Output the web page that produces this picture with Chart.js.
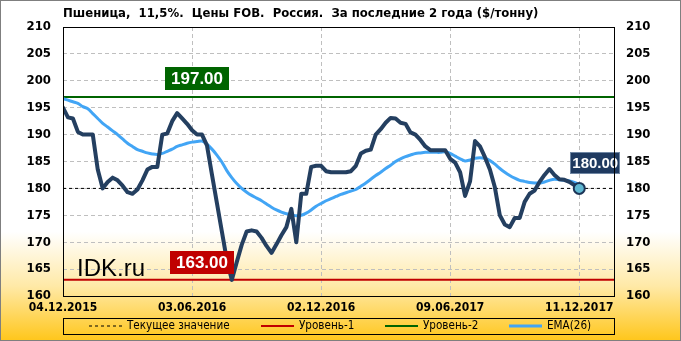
<!DOCTYPE html>
<html><head><meta charset="utf-8">
<script src="https://cdn.jsdelivr.net/npm/chart.js@4/dist/chart.umd.min.js"></script>
<style>html,body{margin:0;padding:0;background:#fff;}canvas{display:block;}</style>
</head><body>
<canvas id="c" width="681" height="341"></canvas>
<script>
// ---- data ----
const chartTitle = 'Пшеница,  11,5%.  Цены FOB.  Россия.  За последние 2 года ($/тонну)';
const dateLabels = ['04.12.2015', '03.06.2016', '02.12.2016', '09.06.2017', '11.12.2017'];
const dateIndex = [0, 26, 52, 78, 104];
const yTicks = [160, 165, 170, 175, 180, 185, 190, 195, 200, 205, 210];
const price = [
  195, 193.2, 193, 190.5, 190, 190, 190, 183.5, 180, 181.2,
  182, 181.5, 180.5, 179.3, 179, 179.8, 181.5, 183.5, 184, 184,
  190, 190.2, 192.5, 194, 193, 192, 190.8, 190, 190, 188,
  182.6, 177.3, 172, 166.7, 163, 166.3, 169.5, 172, 172.2, 172,
  170.8, 169.3, 168, 169.6, 171.3, 172.8, 176.2, 170, 179, 179,
  184, 184.2, 184.2, 183.2, 183, 183, 183, 183, 183.2, 184.2,
  186.5, 187, 187.2, 190, 191, 192.2, 193.1, 193, 192.2, 192,
  190.4, 190, 189, 187.8, 187.1, 187.1, 187.1, 187.1, 185.5, 184.8,
  183, 178.6, 181.3, 188.8, 187.8, 185.8, 183.5, 180.2, 175, 173.3,
  172.8, 174.5, 174.5, 177.5, 179, 179.6, 181.2, 182.5, 183.6, 182.5,
  181.7, 181.6, 181.2, 180.6, 180
];
const ema26 = [
  196.7, 196.4, 196.1, 195.8, 195.2, 194.8, 193.9, 193.0, 192.1, 191.4,
  190.7, 190.0, 189.2, 188.4, 187.8, 187.2, 186.9, 186.6, 186.4, 186.3,
  186.5, 186.9, 187.3, 187.8, 188.1, 188.4, 188.6, 188.7, 188.8, 188.2,
  187.3, 186.2, 184.9, 183.3, 182.0, 180.9, 180.0, 179.3, 178.7, 178.2,
  177.7, 177.1, 176.5, 176.0, 175.6, 175.3, 175.1, 174.9, 175.0, 175.4,
  176.0, 176.7, 177.2, 177.7, 178.1, 178.5, 178.9, 179.2, 179.5, 179.8,
  180.4, 181.0, 181.7, 182.4, 183.0, 183.7, 184.3, 185.0, 185.5, 185.9,
  186.2, 186.5, 186.6, 186.7, 186.7, 186.7, 186.7, 186.8, 186.5, 186.0,
  185.5, 185.1, 185.3, 185.6, 185.7, 185.6, 185.2, 184.5, 183.7, 183.0,
  182.4, 181.9, 181.5, 181.3, 181.1, 181.0, 181.0, 181.2, 181.5, 181.7,
  181.6, 181.5, 181.4, 181.1, 180.7
];
const currentValue = 180;
const level1 = 163;
const level2 = 197;
const seriesNames = ['Текущее значение', 'Уровень-1', 'Уровень-2', 'EMA(26)'];
const watermark = 'IDK.ru';

// ---- chart ----
const X_MAX = 111;
const pts = arr => arr.map((v, i) => ({x: i, y: v}));
const flat = v => [{x: 0, y: v}, {x: X_MAX, y: v}];
const lastIdx = price.length - 1;
const FONT = '"DejaVu Sans Condensed", "DejaVu Sans", sans-serif';

const bgPlugin = {
  id: 'bg',
  beforeDraw(chart) {
    const {ctx, width, height} = chart;
    const g = ctx.createLinearGradient(0, 0, 0, height);
    g.addColorStop(0, '#ffffff');
    g.addColorStop(0.68, '#ffffff');
    g.addColorStop(0.84, '#ffe9a6');
    g.addColorStop(1, '#ffc61a');
    ctx.save();
    ctx.fillStyle = g;
    ctx.fillRect(0, 0, width, height);
    ctx.restore();
  },
  afterDraw(chart) {
    const {ctx, chartArea: a, width, height} = chart;
    ctx.save();
    ctx.strokeStyle = '#000';
    ctx.lineWidth = 1;
    ctx.strokeRect(Math.round(a.left) + 0.5, Math.round(a.top) + 0.5, Math.round(a.right - a.left), Math.round(a.bottom - a.top));
    // legend
    const ly = 326;
    ctx.strokeRect(Math.round(a.left) + 0.5, 318.5, Math.round(a.right - a.left), 16);
    ctx.font = '11.6px ' + FONT;
    ctx.textBaseline = 'middle';
    ctx.textAlign = 'left';
    const ds = chart.data.datasets;
    const items = [ds[1], ds[2], ds[3], ds[4]];
    const xs = [89, 261, 385, 509];
    items.forEach((d, k) => {
      ctx.save();
      ctx.strokeStyle = d.borderColor;
      ctx.lineWidth = d.borderWidth;
      ctx.setLineDash(d.borderDash || []);
      ctx.beginPath();
      ctx.moveTo(xs[k], ly);
      ctx.lineTo(xs[k] + 33, ly);
      ctx.stroke();
      ctx.restore();
      ctx.fillStyle = '#000';
      ctx.fillText(d.label, xs[k] + 38, ly);
    });
    ctx.strokeStyle = '#7f7f7f';
    ctx.strokeRect(0.5, 0.5, width - 1, height - 1);
    ctx.restore();
  }
};

function tag(ctx, text, cx, cy, w, h, fill, size, stroke) {
  ctx.save();
  ctx.fillStyle = fill;
  ctx.fillRect(Math.round(cx - w / 2), Math.round(cy - h / 2), w, h);
  if (stroke) {
    ctx.strokeStyle = stroke;
    ctx.lineWidth = 1;
    ctx.strokeRect(Math.round(cx - w / 2) + 0.5, Math.round(cy - h / 2) + 0.5, w - 1, h - 1);
  }
  ctx.fillStyle = '#fff';
  ctx.font = 'bold ' + size + 'px "Liberation Sans", Arial, sans-serif';
  ctx.textAlign = 'center';
  ctx.textBaseline = 'middle';
  ctx.fillText(text, cx, cy + 1);
  ctx.restore();
}

const labelPlugin = {
  id: 'labels',
  afterDatasetsDraw(chart) {
    const {ctx} = chart;
    const xs = chart.scales.x, ys = chart.scales.y;
    tag(ctx, level2.toFixed(2), xs.getPixelForValue(27), ys.getPixelForValue(level2) - 18.5, 64, 23, '#006400', 17);
    tag(ctx, level1.toFixed(2), xs.getPixelForValue(28), ys.getPixelForValue(level1) - 17.5, 64, 23, '#c00000', 17);
    const px = xs.getPixelForValue(lastIdx), py = ys.getPixelForValue(price[lastIdx]);
    tag(ctx, price[lastIdx].toFixed(2), px + 16, py - 25.5, 50, 22, '#1f3a60', 15, '#6f86a3');
    ctx.save();
    ctx.fillStyle = '#000';
    ctx.font = '24px "Liberation Sans", Arial, sans-serif';
    ctx.textBaseline = 'alphabetic';
    ctx.textAlign = 'left';
    ctx.fillText(watermark, chart.chartArea.left + 14, 276);
    ctx.restore();
  }
};

new Chart(document.getElementById('c'), {
  type: 'line',
  data: {
    datasets: [
      {label: 'price', data: pts(price), borderColor: '#243f60', borderWidth: 4, tension: 0,
       borderJoinStyle: 'round', borderCapStyle: 'round',
       pointRadius: ctx => ctx.dataIndex === lastIdx ? 5.5 : 0,
       pointBackgroundColor: '#5fb8d2', pointBorderColor: '#1c3557', pointBorderWidth: 2, order: 0},
      {label: seriesNames[0], data: flat(currentValue), borderColor: '#000', borderWidth: 1, borderDash: [3, 3], pointRadius: 0, order: 4},
      {label: seriesNames[1], data: flat(level1), borderColor: '#c00000', borderWidth: 2, pointRadius: 0, order: 3},
      {label: seriesNames[2], data: flat(level2), borderColor: '#006400', borderWidth: 2, pointRadius: 0, order: 3},
      {label: seriesNames[3], data: pts(ema26), borderColor: '#42a5f5', borderWidth: 3, tension: 0.3, pointRadius: 0, order: 1}
    ]
  },
  options: {
    responsive: false,
    animation: false,
    devicePixelRatio: 1,
    layout: {padding: {top: 0, bottom: 23, left: 0, right: 0}},
    plugins: {
      legend: {display: false},
      tooltip: {enabled: false},
      title: {display: true, text: chartTitle, align: 'start', fullSize: false, color: '#000',
              font: {family: FONT, size: 13, weight: 'bold', lineHeight: 1.2}, padding: {top: 6, bottom: 5.4}}
    },
    scales: {
      x: {
        type: 'linear', min: 0, max: X_MAX,
        afterBuildTicks: s => { s.ticks = dateIndex.map(v => ({value: v})); },
        afterFit: s => { s.height = 22; },
        ticks: {callback: v => dateLabels[dateIndex.indexOf(v)] ?? '', maxRotation: 0, autoSkip: false,
                color: '#000', font: {family: FONT, size: 12, weight: 'bold'}, padding: 5},
        grid: {color: '#bfbfbf', drawTicks: false},
        border: {display: false, dash: [4, 3]}
      },
      y: {
        position: 'left', min: 160, max: 210,
        afterBuildTicks: s => { s.ticks = yTicks.map(v => ({value: v})); },
        afterFit: s => { s.width = 63; },
        ticks: {color: '#000', font: {family: FONT, size: 13, weight: 'bold'}, padding: 12},
        grid: {color: '#bfbfbf', drawTicks: false},
        border: {display: false, dash: [4, 3]}
      },
      y2: {
        position: 'right', min: 160, max: 210,
        afterBuildTicks: s => { s.ticks = yTicks.map(v => ({value: v})); },
        afterFit: s => { s.width = 67; },
        ticks: {color: '#000', font: {family: FONT, size: 13, weight: 'bold'}, padding: 12},
        grid: {display: false, drawTicks: false},
        border: {display: false}
      }
    }
  },
  plugins: [bgPlugin, labelPlugin]
});
</script>
</body></html>
